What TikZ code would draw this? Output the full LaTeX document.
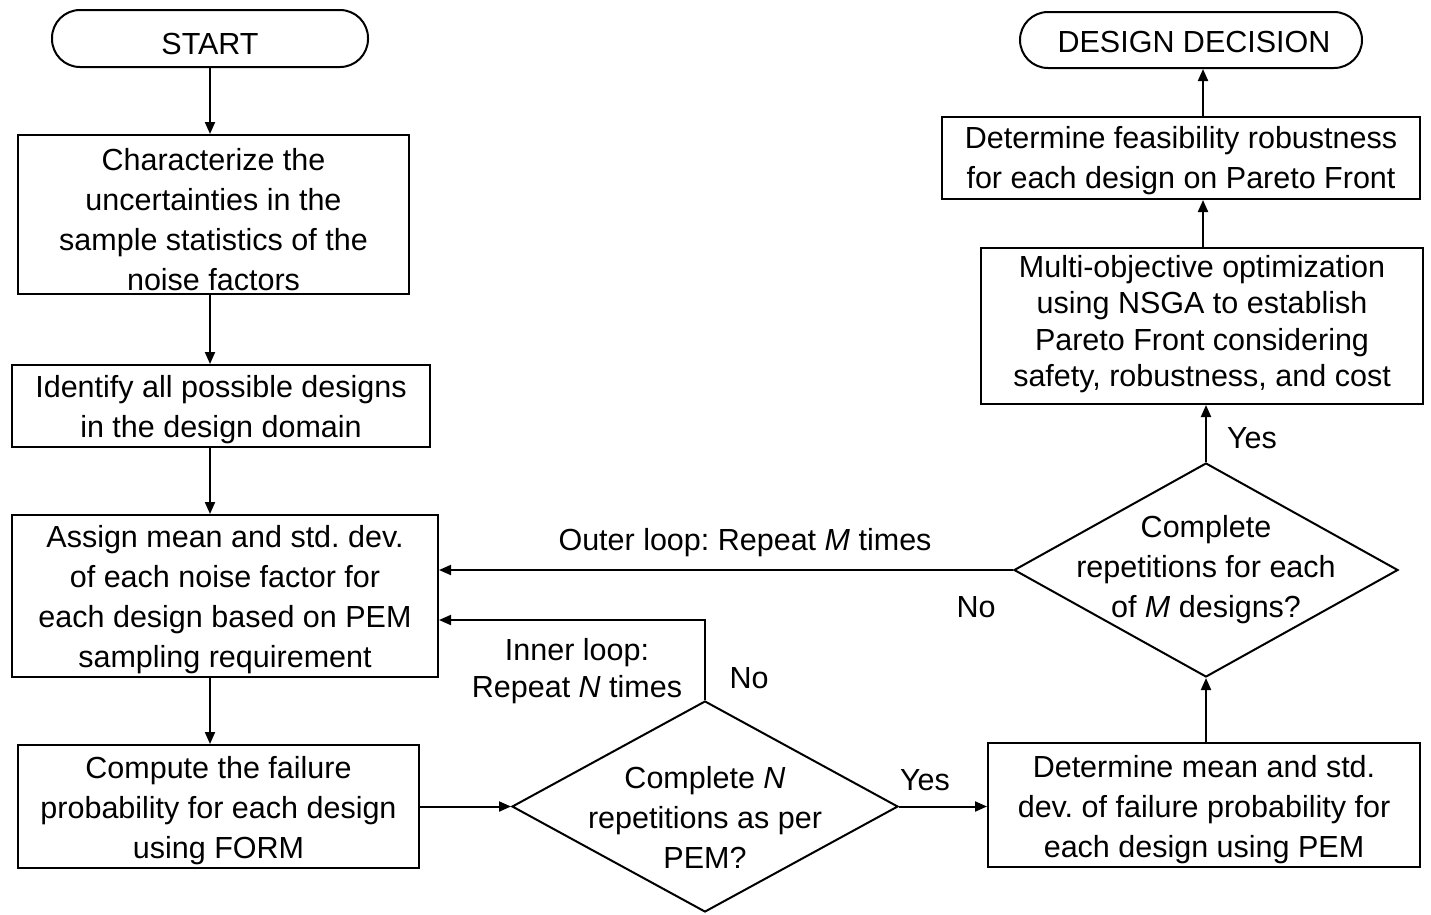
\documentclass[tikz,border=0pt]{standalone}
\usepackage{fontspec}
\setmainfont{Liberation Sans}
\usetikzlibrary{arrows.meta,shapes.geometric}
\tikzset{
  stepbox/.style={draw, line width=2pt, rectangle, inner sep=0pt},
  terminal/.style={stepbox, rounded corners=28pt},
  decision/.style={draw, line width=2pt, diamond, inner sep=0pt},
  txt/.style={align=center, inner sep=0pt,
    font=\frenchspacing\fontsize{30.5}{40}\selectfont},
  lbl/.style={align=center, font=\frenchspacing\fontsize{30.5}{37}\selectfont},
  flow/.style={line width=2pt, -{Triangle[length=12pt,width=10pt]}},
}
\begin{document}
\begin{tikzpicture}[x=1pt,y=-1pt]
\useasboundingbox (0,0) rectangle (1431,914);

% left column
\node[terminal, minimum width=316pt, minimum height=57pt] (start) at (210,38.5) {};
\node[txt] (startt) at ([yshift=-5pt]start) {START};
\node[stepbox, minimum width=391pt, minimum height=159pt] (b1) at (213.5,214.5) {};
\node[txt] (b1t) at ([yshift=-5pt]b1)
  {Characterize the\\uncertainties in the\\sample statistics of the\\noise factors};
\node[stepbox, minimum width=418pt, minimum height=82pt] (b2) at (221,406) {};
\node[txt] (b2t) at ([yshift=-4pt]b2) {Identify all possible designs\\in the design domain};
\node[stepbox, minimum width=426pt, minimum height=162pt] (b3) at (225,596) {};
\node[txt] (b3t) at ([yshift=-4pt]b3)
  {Assign mean and std. dev.\\of each noise factor for\\each design based on PEM\\sampling requirement};
\node[stepbox, minimum width=401pt, minimum height=123pt] (b4) at (218.5,806.5) {};
\node[txt] (b4t) at ([yshift=-4pt]b4)
  {Compute the failure\\probability for each design\\using FORM};

% inner decision
\node[decision, minimum width=386pt, minimum height=211pt] (d1) at (705,806.5) {};
\node[txt] (d1t) at ([yshift=-11pt]d1) {Complete \textit{N}\\repetitions as per\\PEM?};

% right column
\node[stepbox, minimum width=432pt, minimum height=124pt] (b5) at (1204,805) {};
\node[txt] (b5t) at ([yshift=-5pt]b5)
  {Determine mean and std.\\dev. of failure probability for\\each design using PEM};
\node[decision, minimum width=384pt, minimum height=214pt] (d2) at (1206,570) {};
\node[txt] (d2t) at (d2) {Complete\\repetitions for each\\of \textit{M} designs?};
\node[stepbox, minimum width=442pt, minimum height=156pt] (b6) at (1202,326) {};
\node[txt, font=\frenchspacing\fontsize{30.5}{36.3}\selectfont] (b6t) at ([yshift=2pt]b6)
  {Multi-objective optimization\\using NSGA to establish\\Pareto Front considering\\safety, robustness, and cost};
\node[stepbox, minimum width=478pt, minimum height=82pt] (b7) at (1181,158) {};
\node[txt] (b7t) at ([yshift=-3pt]b7)
  {Determine feasibility robustness\\for each design on Pareto Front};
\node[terminal, minimum width=342pt, minimum height=56pt] (dd) at (1191,40) {};
\node[txt] (ddt) at ([yshift=-2pt,xshift=3pt]dd) {DESIGN DECISION};

% connectors
\draw[flow] (start.south) -- (start.south |- b1.north);
\draw[flow] (start.south |- b1.south) -- (start.south |- b2.north);
\draw[flow] (start.south |- b2.south) -- (start.south |- b3.north);
\draw[flow] (start.south |- b3.south) -- (start.south |- b4.north);
\draw[flow] (b4.east) -- (d1.west);
\draw[flow] (d1.east) -- (d1.east -| b5.west);
\draw[flow] (d2.south |- b5.north) -- (d2.south);
\draw[flow] (d2.north) -- (d2.north |- b6.south);
\draw[flow] ([xshift=-3pt]d2.north |- b6.north) -- ([xshift=-3pt]d2.north |- b7.south);
\draw[flow] ([xshift=-3pt]d2.north |- b7.north) -- ([xshift=-3pt]d2.north |- dd.south);
\draw[flow] (d2.west) -- (d2.west -| b3.east);
\draw[flow] (d1.north) |- ([yshift=-24pt]b3.east);

% branch labels
\node[lbl] (outer) at (745,543) {Outer loop: Repeat \textit{M} times};
\node[lbl] (no2) at (976,607) {No};
\node[lbl] (inner) at (577,671.5) {Inner loop:\\Repeat \textit{N} times};
\node[lbl] (no1) at (749,678) {No};
\node[lbl] (yes1) at (925,780) {Yes};
\node[lbl] (yes2) at (1252,438) {Yes};
\end{tikzpicture}
\end{document}
